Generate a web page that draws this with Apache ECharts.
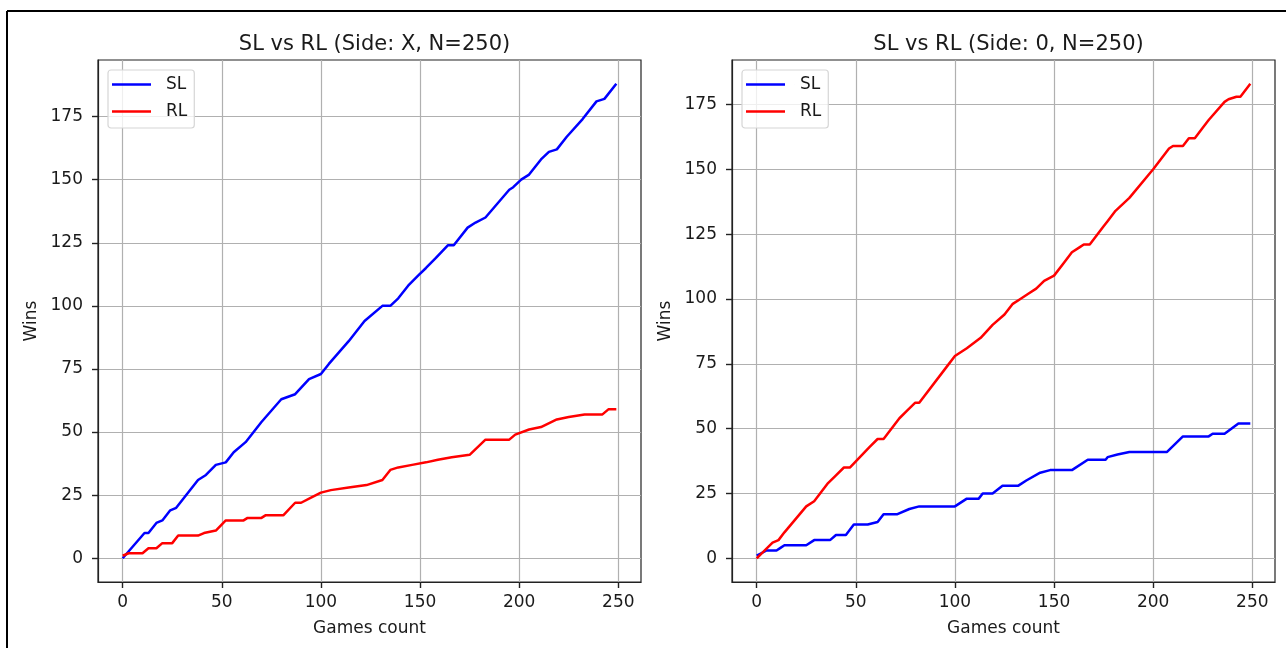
<!DOCTYPE html>
<html>
<head>
<meta charset="utf-8">
<script src="https://cdn.jsdelivr.net/npm/echarts@6/dist/echarts.min.js"></script>
<style>
  html, body { margin: 0; padding: 0; background: #fff; }
  #chart { width: 1286px; height: 648px; }
</style>
</head>
<body>
<div id="chart"></div>
<script>
// ---- Data ----
const titles = ['SL vs RL (Side: X, N=250)', 'SL vs RL (Side: 0, N=250)'];
const seriesNames = ['SL', 'RL'];
const xTicks = [0, 50, 100, 150, 200, 250];
const yTicks = [0, 25, 50, 75, 100, 125, 150, 175];

// Left panel (Side: X)
const leftSLGames = [0,11,13,17,20,24,27,38,42,47,52,56,62,70,80,87,94,100,104,114,122,131,135,139,144,149,153,158,164,167,174,178,183,195,197,201,205,211,215,219,224,232,239,243,249];
const leftSLWins  = [0,10,10,14,15,19,20,31,33,37,38,42,46,54,63,65,71,73,77,86,94,100,100,103,108,112,115,119,124,124,131,133,135,146,147,150,152,158,161,162,167,174,181,182,188];
const leftRLGames = [0,3,10,13,17,20,25,28,38,41,47,52,61,63,70,72,81,87,90,95,100,105,114,123,131,135,139,146,153,159,166,175,183,195,198,205,211,219,225,233,242,245,249];
const leftRLWins  = [1,2,2,4,4,6,6,9,9,10,11,15,15,16,16,17,17,22,22,24,26,27,28,29,31,35,36,37,38,39,40,41,47,47,49,51,52,55,56,57,57,59,59];

// Right panel (Side: 0)
const rightSLGames = [0,5,10,12,14,25,29,37,40,45,49,56,61,64,71,77,82,100,106,112,114,119,124,132,136,143,148,159,167,176,177,182,188,207,215,228,230,236,243,249];
const rightSLWins  = [1,3,3,4,5,5,7,7,9,9,13,13,14,17,17,19,20,20,23,23,25,25,28,28,30,33,34,34,38,38,39,40,41,41,47,47,48,48,52,52];
const rightRLGames = [0,8,11,14,25,29,36,40,44,47,57,61,64,72,76,80,82,96,100,106,113,119,125,129,133,137,141,145,150,155,159,163,165,168,175,177,181,188,200,208,210,215,218,221,225,228,236,238,242,244,249];
const rightRLWins  = [0,6,7,10,20,22,29,32,35,35,43,46,46,54,57,60,60,74,78,81,85,90,94,98,100,102,104,107,109,114,118,120,121,121,128,130,134,139,150,158,159,159,162,162,166,169,176,177,178,178,183];

const seriesColors = ['#0000ff', '#ff0000'];

function pairs(xs, ys) { return xs.map((x, i) => [x, ys[i]]); }

// ---- Layout ----
const FONT = 'DejaVu Sans';
const TXT = '#1a1a1a';
const grids = [
  { left: 98, top: 60, width: 543, height: 522 },
  { left: 732, top: 60, width: 543, height: 522 }
];
const yRanges = [[-9.4, 197.4], [-9.15, 192.15]];

const chart = echarts.init(document.getElementById('chart'));

const xAxes = [0, 1].map(i => ({
  type: 'value', gridIndex: i, min: -12.45, max: 261.45,
  axisLine: { show: true, onZero: false, lineStyle: { color: '#222', width: 1.2 } },
  axisTick: { show: true, customValues: xTicks, length: 6, lineStyle: { color: '#222', width: 1.4 } },
  axisLabel: { customValues: xTicks, fontSize: 17, color: TXT, margin: 12, fontFamily: FONT },
  splitLine: { show: true, lineStyle: { color: '#b0b0b0', width: 1.2 } },
  name: 'Games count', nameLocation: 'middle', nameGap: 38,
  nameTextStyle: { fontSize: 17, color: TXT, fontFamily: FONT }
}));

const yAxes = [0, 1].map(i => ({
  type: 'value', gridIndex: i, min: yRanges[i][0], max: yRanges[i][1],
  axisLine: { show: true, onZero: false, lineStyle: { color: '#222', width: 1.2 } },
  axisTick: { show: true, customValues: yTicks, length: 6, lineStyle: { color: '#222', width: 1.4 } },
  axisLabel: { customValues: yTicks, fontSize: 17, color: TXT, margin: 15, fontFamily: FONT },
  splitLine: { show: true, lineStyle: { color: '#b0b0b0', width: 1.2 } },
  name: 'Wins', nameLocation: 'middle', nameGap: 58,
  nameTextStyle: { fontSize: 17, color: TXT, fontFamily: FONT }
}));

const data = [
  [pairs(leftSLGames, leftSLWins), pairs(leftRLGames, leftRLWins)],
  [pairs(rightSLGames, rightSLWins), pairs(rightRLGames, rightRLWins)]
];

const series = [];
[0, 1].forEach(g => {
  [0, 1].forEach(s => {
    series.push({
      type: 'line', name: seriesNames[s], xAxisIndex: g, yAxisIndex: g,
      data: data[g][s], showSymbol: false, symbol: 'none',
      lineStyle: { color: seriesColors[s], width: 2.5 },
      itemStyle: { color: seriesColors[s] },
      animation: false, silent: true, z: 3 + s
    });
  });
});

// legend icon: a 39px line followed by empty space so the label sits where matplotlib puts it
const legendIcon = 'path://M0,0H39V2.5H0Z M48.99,0H49V2.5H48.99Z';

const legends = [0, 1].map(i => ({
  data: seriesNames, orient: 'vertical',
  left: grids[i].left + 10, top: grids[i].top + 10,
  icon: legendIcon, itemWidth: 49, itemHeight: 2.5, itemGap: 10,
  padding: [6, 7, 8, 4],
  backgroundColor: 'rgba(255,255,255,0.8)',
  borderColor: '#d6d6d6', borderWidth: 1.2, borderRadius: 3,
  textStyle: { fontSize: 17, color: TXT, fontFamily: FONT },
  selectedMode: false
}));

const titleComps = [0, 1].map(i => ({
  text: titles[i],
  left: grids[i].left + grids[i].width / 2, textAlign: 'center',
  top: 29,
  textStyle: { fontSize: 21, fontWeight: 'normal', color: TXT, fontFamily: FONT }
}));

chart.setOption({
  animation: false,
  backgroundColor: '#ffffff',
  title: titleComps,
  legend: legends,
  grid: grids.map(g => Object.assign({ show: true, borderColor: '#222', borderWidth: 1.2, backgroundColor: 'transparent' }, g)),
  xAxis: xAxes,
  yAxis: yAxes,
  series: series,
  graphic: [
    { type: 'line', shape: { x1: 7, y1: 11, x2: 1286, y2: 11 }, style: { stroke: '#000', lineWidth: 2 } },
    { type: 'line', shape: { x1: 7, y1: 11, x2: 7, y2: 648 }, style: { stroke: '#000', lineWidth: 2 } }
  ]
});
</script>
</body>
</html>
